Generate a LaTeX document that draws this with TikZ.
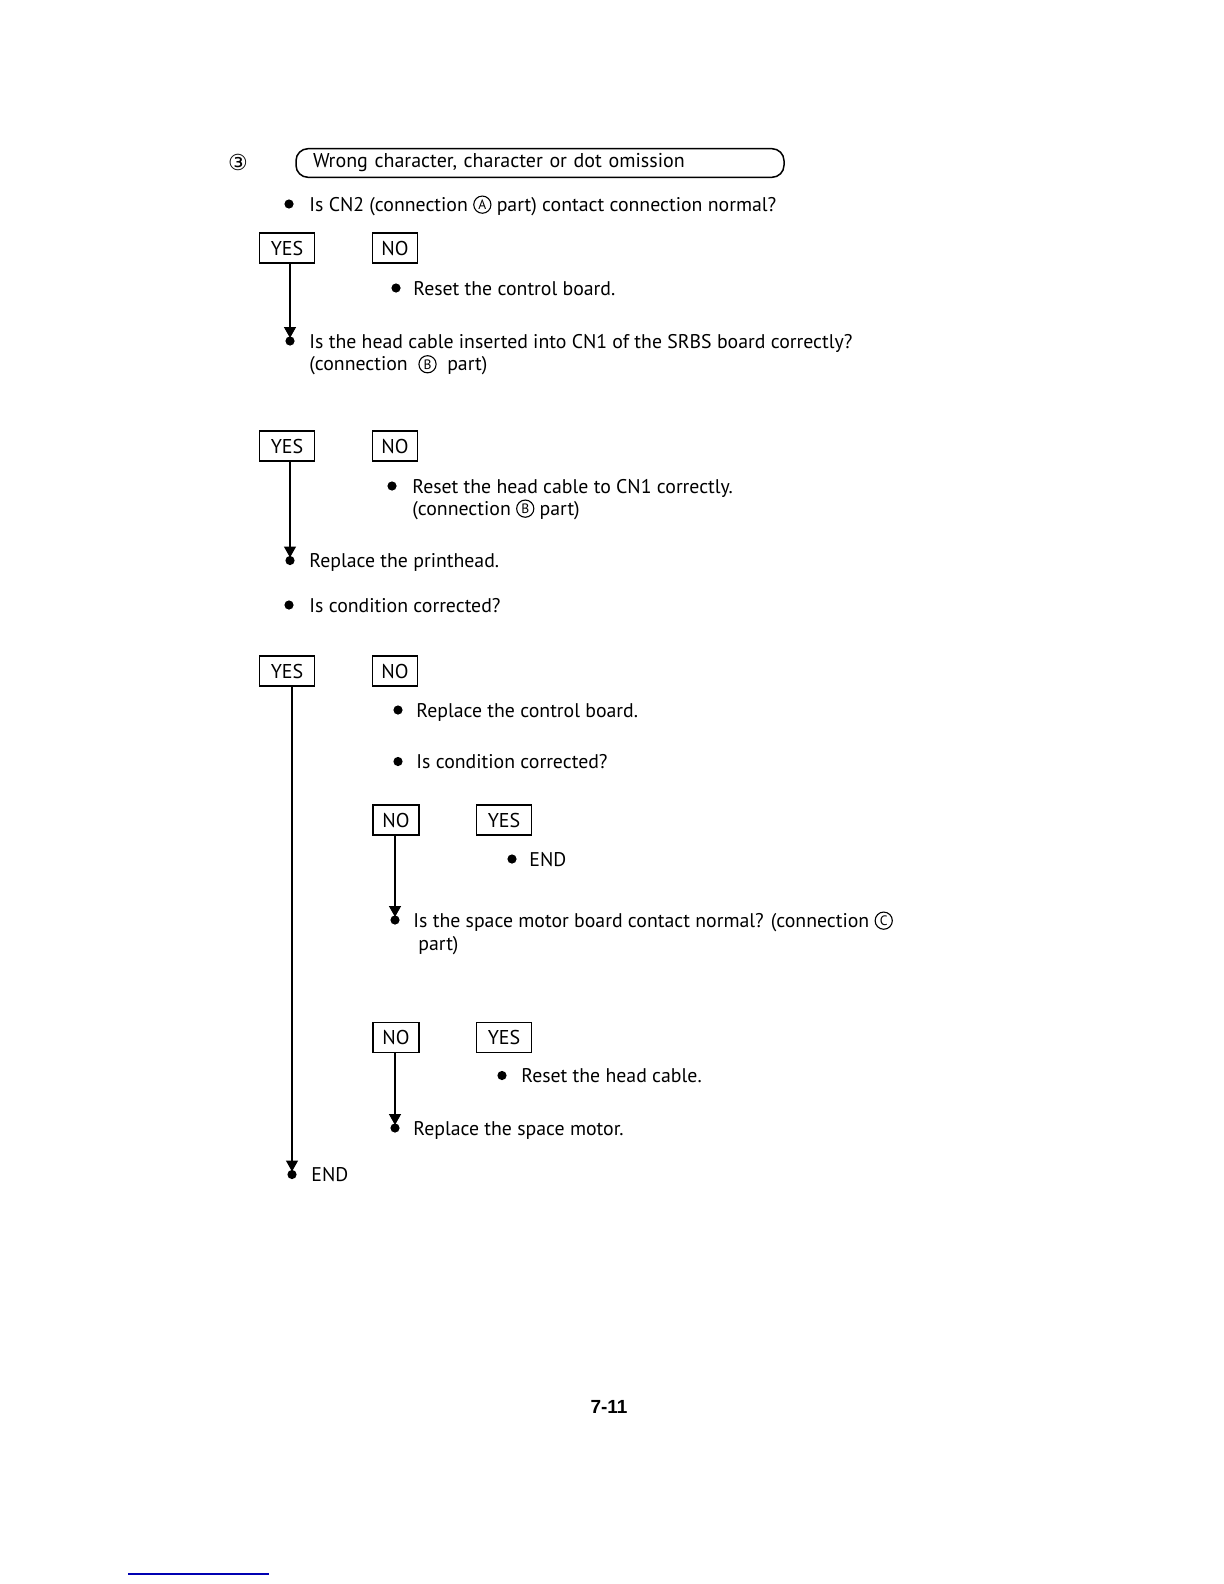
\documentclass[tikz,border=0pt]{standalone}
\usepackage{fontspec}
\setmainfont{PT Sans}
\newfontfamily\symf{DejaVu Sans}
\newfontfamily\numf{Liberation Sans}
\usetikzlibrary{arrows.meta}
\newcommand{\cmark}[1]{\raisebox{-1.4pt}{\tikz\node[circle, draw, anchor=center, minimum size=8.6pt, inner sep=0pt, line width=0.55pt, font=\fontsize{6.8}{7}\selectfont]{#1};}}
\begin{document}
\begin{tikzpicture}[x=0.5pt,y=-0.5pt,
  txt/.style={anchor=mid west, inner sep=0pt, yshift=-1pt, font=\fontsize{9.9}{12}\selectfont},
  choice/.style={draw, line width=0.75pt, minimum height=15pt, inner sep=0pt, font=\fontsize{10}{12}\selectfont},
  yesbox/.style={choice, minimum width=27.3pt},
  nobox/.style={choice, minimum width=22.5pt},
  dot/.style={circle, fill=black, inner sep=0pt, minimum size=4.6pt},
  flow/.style={line width=0.7pt, -{Triangle[width=6pt,length=5.5pt]}, shorten >=-1pt}
]
\useasboundingbox (0,0) rectangle (1224,1584);
\fill[white] (0,0) rectangle (1224,1584);

% header
\node[inner sep=0pt, font=\symf\fontsize{11}{12}\selectfont] (num) at (238,162) {③};
\node[draw, line width=0.75pt, rounded corners=6pt, minimum width=244pt, minimum height=14.3pt,
      text width=227pt, align=left, inner xsep=8.5pt, inner ysep=0pt,
      font=\fontsize{10}{12}\selectfont] (title) at (540,163) {Wrong character, character or dot omission};

% question 1
\node[dot] (bt1) at (289,204) {};
\node[txt] (t1) at (309,204) {Is CN2 (connection \cmark{A} part) contact connection normal?};
\node[yesbox] (yes1) at (287,248) {YES};
\node[nobox] (no1) at (395,248) {NO};
\node[dot] (bn1) at (396,288) {};
\node[txt] (n1) at (413,288) {Reset the control board.};

% question 2
\node[dot] (bq2) at (290,341) {};
\node[txt] (q2) at (309,341) {Is the head cable inserted into CN1 of the SRBS board correctly?};
\node[txt] (q2b) at (309,363.6) {(connection \ \cmark{B} \ part)};
\draw[flow] (yes1.south -| bq2) -- (bq2.north);
\node[yesbox] (yes2) at (287,446) {YES};
\node[nobox] (no2) at (395,446) {NO};
\node[dot] (bn2) at (392,486) {};
\node[txt] (n2) at (412,486) {Reset the head cable to CN1 correctly.};
\node[txt] (n2b) at (412,508) {(connection \cmark{B} part)};
\node[dot] (br1) at (290,560.5) {};
\node[txt] (r1) at (309,560.5) {Replace the printhead.};
\draw[flow] (yes2.south -| br1) -- (br1.north);

% question 3
\node[dot] (bq3) at (289,605) {};
\node[txt] (q3) at (309,605) {Is condition corrected?};
\node[yesbox] (yes3) at (287,671) {YES};
\node[nobox] (no3) at (395,671) {NO};
\node[dot] (bn3) at (398,710) {};
\node[txt] (n3) at (416,710) {Replace the control board.};
\node[dot] (bq4) at (398,761.5) {};
\node[txt] (q4) at (416,761.5) {Is condition corrected?};

\node[nobox, minimum width=23pt] (no4) at (396,820) {NO};
\node[yesbox] (yes4) at (504,820) {YES};
\node[dot] (be1) at (512,859) {};
\node[txt] (e1) at (529,859) {END};
\node[dot] (bq5) at (395,920) {};
\node[txt] (q5) at (413,920) {Is the space motor board contact normal? (connection \cmark{C}};
\node[txt] (q5b) at (418,943) {part)};
\draw[flow] (no4.south -| bq5) -- (bq5.north);

\node[nobox, minimum width=23pt] (no5) at (396,1037.5) {NO};
\node[yesbox] (yes5) at (504,1037.5) {YES};
\node[dot] (bn5) at (502,1075.5) {};
\node[txt] (n5) at (521,1075.5) {Reset the head cable.};
\node[dot] (br5) at (395,1128) {};
\node[txt] (r5) at (413,1128) {Replace the space motor.};
\draw[flow] (no5.south -| br5) -- (br5.north);

\node[dot] (bend) at (292,1174.5) {};
\node[txt] (end) at (311,1174.5) {END};
\draw[flow] (yes3.south -| bend) -- (bend.north);

% footer
\node[inner sep=0pt, font=\numf\bfseries\fontsize{9.5}{11}\selectfont] (page) at (609,1407) {7-11};
\draw[line width=0.6pt, blue!70!black] (128,1574) -- (269,1574);
\end{tikzpicture}
\end{document}
